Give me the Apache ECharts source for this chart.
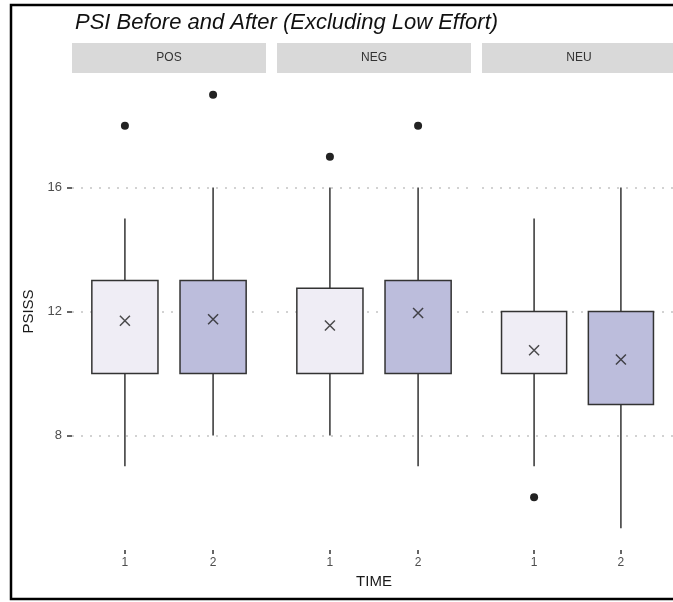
<!DOCTYPE html>
<html>
<head>
<meta charset="utf-8">
<title>PSI Before and After</title>
<script src="https://cdn.jsdelivr.net/npm/echarts@6/dist/echarts.min.js"></script>
<style>
  html, body { margin: 0; padding: 0; background: #fff; }
  #chart { width: 673px; height: 602px; }
</style>
</head>
<body>
<div id="chart"></div>
<script>
// data, one [time 1, time 2] pair per facet
const facets = ['POS', 'NEG', 'NEU'];
const timeLabels = ['1', '2'];
const whiskerLow = [[7, 8], [8, 7], [7, 5]];
const boxLow = [[10, 10], [10, 10], [10, 9]];
const boxHigh = [[13, 13], [12.75, 13], [12, 12]];
const whiskerHigh = [[15, 16], [16, 16], [15, 16]];
const means = [[11.7, 11.75], [11.55, 11.95], [10.75, 10.45]];
const outliers = [[[18], [19]], [[17], [18]], [[6], []]];
const yTicks = [8, 12, 16];

const fills = ['#efedf5', '#bcbddc'];
const ink = '#333333';
const font = '"Liberation Sans", Arial, Helvetica, sans-serif';

// facet panel layout (px)
const panelLeft = 72;
const panelWidth = 194;
const panelStep = 205;
const panelTop = 73;
const panelHeight = 477;

function renderBox(params, api) {
  const x = api.value(0);
  const lo = api.coord([x, api.value(1)]);
  const q1 = api.coord([x, api.value(2)]);
  const q3 = api.coord([x, api.value(3)]);
  const hi = api.coord([x, api.value(4)]);
  const w = api.size([0.75, 0])[0];
  const lineStyle = { stroke: ink, lineWidth: 1.5 };
  return {
    type: 'group',
    children: [
      { type: 'line', shape: { x1: lo[0], y1: lo[1], x2: q1[0], y2: q1[1] }, style: lineStyle },
      { type: 'line', shape: { x1: hi[0], y1: hi[1], x2: q3[0], y2: q3[1] }, style: lineStyle },
      {
        type: 'rect',
        shape: { x: q1[0] - w / 2, y: q3[1], width: w, height: q1[1] - q3[1] },
        style: { fill: fills[x - 1], stroke: ink, lineWidth: 1.5 },
      },
    ],
  };
}

const grids = [];
const xAxes = [];
const yAxes = [];
const series = [];
const graphics = [];

facets.forEach((name, i) => {
  const left = panelLeft + i * panelStep;
  grids.push({ left: left, top: panelTop, width: panelWidth, height: panelHeight });

  xAxes.push({
    type: 'value',
    gridIndex: i,
    min: 0.4,
    max: 2.6,
    name: i === 1 ? 'TIME' : '',
    nameLocation: 'middle',
    nameGap: 22,
    nameTextStyle: { fontFamily: font, fontSize: 15, color: '#1a1a1a' },
    axisLine: { show: false },
    splitLine: { show: false },
    axisTick: { show: true, length: 4, customValues: [1, 2], lineStyle: { color: ink, width: 1.5 } },
    axisLabel: {
      customValues: [1, 2],
      margin: 7,
      fontFamily: font,
      fontSize: 12,
      color: '#4d4d4d',
      formatter: (v) => timeLabels[v - 1],
    },
  });

  yAxes.push({
    type: 'value',
    gridIndex: i,
    min: 4.3,
    max: 19.7,
    name: i === 0 ? 'PSISS' : '',
    nameLocation: 'middle',
    nameGap: 36,
    nameTextStyle: { fontFamily: font, fontSize: 15, color: '#1a1a1a' },
    axisLine: { show: false },
    axisTick: { show: i === 0, length: 5, customValues: yTicks, lineStyle: { color: ink, width: 1.5 } },
    axisLabel: {
      show: i === 0,
      customValues: yTicks,
      margin: 10,
      fontFamily: font,
      fontSize: 13,
      color: '#4d4d4d',
    },
    splitLine: { show: true, lineStyle: { color: '#c4c4c4', width: 1.5, type: [2, 7] } },
  });

  const boxData = [0, 1].map((t) => [
    t + 1, whiskerLow[i][t], boxLow[i][t], boxHigh[i][t], whiskerHigh[i][t],
  ]);
  series.push({
    type: 'custom',
    xAxisIndex: i,
    yAxisIndex: i,
    renderItem: renderBox,
    encode: { x: 0, y: [1, 2, 3, 4] },
    data: boxData,
    silent: true,
  });

  const outData = [];
  outliers[i].forEach((vals, t) => vals.forEach((v) => outData.push([t + 1, v])));
  series.push({
    type: 'scatter',
    xAxisIndex: i,
    yAxisIndex: i,
    symbol: 'circle',
    symbolSize: 8,
    itemStyle: { color: '#222222', opacity: 1 },
    data: outData,
    silent: true,
  });

  series.push({
    type: 'scatter',
    xAxisIndex: i,
    yAxisIndex: i,
    symbol: 'path://M0,0L10,10M10,0L0,10',
    symbolSize: 10,
    itemStyle: { color: 'none', borderColor: '#222222', borderWidth: 1.5 },
    data: means[i].map((m, t) => [t + 1, m]),
    silent: true,
    z: 5,
  });

  // facet strip
  graphics.push({
    type: 'rect',
    left: left,
    top: 43,
    shape: { width: panelWidth, height: 30 },
    style: { fill: '#d9d9d9' },
    silent: true,
  });
  graphics.push({
    type: 'text',
    x: left + panelWidth / 2,
    y: 58,
    style: {
      text: name,
      fontFamily: font,
      fontSize: 12,
      fill: '#333333',
      align: 'center',
      verticalAlign: 'middle',
    },
    silent: true,
  });
});

// frame round the figure
graphics.push({
  type: 'rect',
  x: 11,
  y: 5,
  shape: { width: 700, height: 594 },
  style: { fill: 'none', stroke: '#000', lineWidth: 2.5 },
  silent: true,
});

const chart = echarts.init(document.getElementById('chart'));
chart.setOption({
  animation: false,
  backgroundColor: '#ffffff',
  title: {
    text: 'PSI Before and After (Excluding Low Effort)',
    left: 70,
    top: 7,
    textStyle: { fontFamily: font, fontSize: 22, fontStyle: 'italic', fontWeight: 'normal', color: '#111111' },
  },
  grid: grids,
  xAxis: xAxes,
  yAxis: yAxes,
  series: series,
  graphic: graphics,
});
</script>
</body>
</html>
